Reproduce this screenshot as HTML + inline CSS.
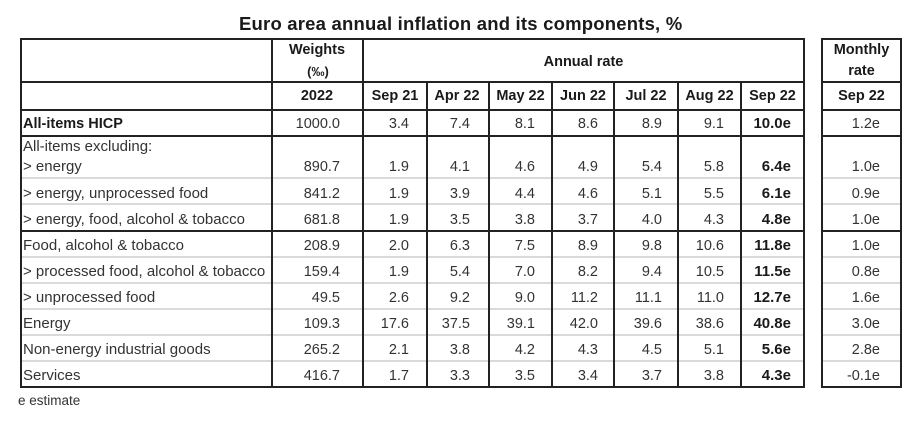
<!DOCTYPE html>
<html><head><meta charset="utf-8"><style>
html,body{margin:0;padding:0;background:#fff;}
#c{position:relative;width:910px;height:430px;overflow:hidden;background:#fff;font-family:"Liberation Sans",Arial,sans-serif;color:#333;}
.h{position:absolute;background:#222;height:2px;}
.v{position:absolute;background:#222;width:2px;}
.lt{position:absolute;background:#dadada;height:2px;}
.r{position:absolute;left:0;width:910px;height:20px;line-height:20px;font-size:14.5px;}
.r span{position:absolute;top:0;white-space:nowrap;}
.l{left:23px;font-size:15px;}
.lb{left:23px;font-weight:bold;color:#1a1a1a;font-size:14.5px;}
.w{right:570px}.a{right:501px}.b{right:440px}.c{right:375px}.d{right:312px}.e{right:248px}.f{right:186px}
.g{right:119px;font-weight:bold;font-size:15px;color:#1a1a1a}
.m{right:30px}
.hd{position:absolute;text-align:center;font-weight:bold;font-size:14.5px;line-height:20px;color:#1a1a1a;white-space:nowrap;}
</style></head><body><div id="c">

<div style="position:absolute;left:239px;top:11.7px;line-height:24px;font-size:18.5px;font-weight:bold;letter-spacing:0.2px;color:#1a1a1a;white-space:nowrap;">Euro area annual inflation and its components, %</div>

<!-- main table lines -->
<div class="h" style="left:20px;width:785px;top:38px"></div>
<div class="h" style="left:20px;width:785px;top:81px"></div>
<div class="h" style="left:20px;width:785px;top:109px"></div>
<div class="h" style="left:20px;width:785px;top:135px"></div>
<div class="h" style="left:20px;width:785px;top:230px"></div>
<div class="h" style="left:20px;width:785px;top:386px"></div>
<div class="lt" style="left:22px;width:781px;top:177px"></div>
<div class="lt" style="left:22px;width:781px;top:203px"></div>
<div class="lt" style="left:22px;width:781px;top:256px"></div>
<div class="lt" style="left:22px;width:781px;top:282px"></div>
<div class="lt" style="left:22px;width:781px;top:308px"></div>
<div class="lt" style="left:22px;width:781px;top:334px"></div>
<div class="lt" style="left:22px;width:781px;top:360px"></div>
<div class="v" style="left:20px;top:38px;height:350px"></div>
<div class="v" style="left:271px;top:38px;height:350px"></div>
<div class="v" style="left:362px;top:38px;height:350px"></div>
<div class="v" style="left:426px;top:81px;height:307px"></div>
<div class="v" style="left:488px;top:81px;height:307px"></div>
<div class="v" style="left:551px;top:81px;height:307px"></div>
<div class="v" style="left:613px;top:81px;height:307px"></div>
<div class="v" style="left:677px;top:81px;height:307px"></div>
<div class="v" style="left:740px;top:81px;height:307px"></div>
<div class="v" style="left:803px;top:38px;height:350px"></div>

<!-- monthly table lines -->
<div class="h" style="left:821px;width:81px;top:38px"></div>
<div class="h" style="left:821px;width:81px;top:81px"></div>
<div class="h" style="left:821px;width:81px;top:109px"></div>
<div class="h" style="left:821px;width:81px;top:135px"></div>
<div class="h" style="left:821px;width:81px;top:230px"></div>
<div class="h" style="left:821px;width:81px;top:386px"></div>
<div class="lt" style="left:823px;width:77px;top:177px"></div>
<div class="lt" style="left:823px;width:77px;top:203px"></div>
<div class="lt" style="left:823px;width:77px;top:256px"></div>
<div class="lt" style="left:823px;width:77px;top:282px"></div>
<div class="lt" style="left:823px;width:77px;top:308px"></div>
<div class="lt" style="left:823px;width:77px;top:334px"></div>
<div class="lt" style="left:823px;width:77px;top:360px"></div>
<div class="v" style="left:821px;top:38px;height:350px"></div>
<div class="v" style="left:900px;top:38px;height:350px"></div>

<!-- headers -->
<div class="hd" style="left:272px;width:90px;top:40px">Weights</div>
<div class="hd" style="left:272px;width:92px;top:61.5px;font-size:13px">(‰)</div>
<div class="hd" style="left:272px;width:90px;top:86px">2022</div>
<div class="hd" style="left:364px;width:439px;top:51.5px">Annual rate</div>
<div class="hd" style="left:364px;width:62px;top:86px">Sep 21</div>
<div class="hd" style="left:425px;width:64px;top:86px">Apr 22</div>
<div class="hd" style="left:490px;width:61px;top:86px">May 22</div>
<div class="hd" style="left:553px;width:60px;top:86px">Jun 22</div>
<div class="hd" style="left:615px;width:62px;top:86px">Jul 22</div>
<div class="hd" style="left:679px;width:61px;top:86px">Aug 22</div>
<div class="hd" style="left:742px;width:61px;top:86px">Sep 22</div>
<div class="hd" style="left:823px;width:77px;top:40px">Monthly</div>
<div class="hd" style="left:823px;width:77px;top:61px">rate</div>
<div class="hd" style="left:823px;width:77px;top:86px">Sep 22</div>

<!-- rows -->
<div class="r" style="top:114px"><span class="lb">All-items HICP</span><span class="w">1000.0</span><span class="a">3.4</span><span class="b">7.4</span><span class="c">8.1</span><span class="d">8.6</span><span class="e">8.9</span><span class="f">9.1</span><span class="g">10.0e</span><span class="m">1.2e</span></div>
<div class="r" style="top:137px"><span class="l">All-items excluding:</span></div>
<div class="r" style="top:157px"><span class="l">&gt; energy</span><span class="w">890.7</span><span class="a">1.9</span><span class="b">4.1</span><span class="c">4.6</span><span class="d">4.9</span><span class="e">5.4</span><span class="f">5.8</span><span class="g">6.4e</span><span class="m">1.0e</span></div>
<div class="r" style="top:183.5px"><span class="l">&gt; energy, unprocessed food</span><span class="w">841.2</span><span class="a">1.9</span><span class="b">3.9</span><span class="c">4.4</span><span class="d">4.6</span><span class="e">5.1</span><span class="f">5.5</span><span class="g">6.1e</span><span class="m">0.9e</span></div>
<div class="r" style="top:209.5px"><span class="l">&gt; energy, food, alcohol &amp; tobacco</span><span class="w">681.8</span><span class="a">1.9</span><span class="b">3.5</span><span class="c">3.8</span><span class="d">3.7</span><span class="e">4.0</span><span class="f">4.3</span><span class="g">4.8e</span><span class="m">1.0e</span></div>
<div class="r" style="top:235.5px"><span class="l">Food, alcohol &amp; tobacco</span><span class="w">208.9</span><span class="a">2.0</span><span class="b">6.3</span><span class="c">7.5</span><span class="d">8.9</span><span class="e">9.8</span><span class="f">10.6</span><span class="g">11.8e</span><span class="m">1.0e</span></div>
<div class="r" style="top:261.5px"><span class="l">&gt; processed food, alcohol &amp; tobacco</span><span class="w">159.4</span><span class="a">1.9</span><span class="b">5.4</span><span class="c">7.0</span><span class="d">8.2</span><span class="e">9.4</span><span class="f">10.5</span><span class="g">11.5e</span><span class="m">0.8e</span></div>
<div class="r" style="top:287.5px"><span class="l">&gt; unprocessed food</span><span class="w">49.5</span><span class="a">2.6</span><span class="b">9.2</span><span class="c">9.0</span><span class="d">11.2</span><span class="e">11.1</span><span class="f">11.0</span><span class="g">12.7e</span><span class="m">1.6e</span></div>
<div class="r" style="top:313.5px"><span class="l">Energy</span><span class="w">109.3</span><span class="a">17.6</span><span class="b">37.5</span><span class="c">39.1</span><span class="d">42.0</span><span class="e">39.6</span><span class="f">38.6</span><span class="g">40.8e</span><span class="m">3.0e</span></div>
<div class="r" style="top:339.5px"><span class="l">Non-energy industrial goods</span><span class="w">265.2</span><span class="a">2.1</span><span class="b">3.8</span><span class="c">4.2</span><span class="d">4.3</span><span class="e">4.5</span><span class="f">5.1</span><span class="g">5.6e</span><span class="m">2.8e</span></div>
<div class="r" style="top:365.5px"><span class="l">Services</span><span class="w">416.7</span><span class="a">1.7</span><span class="b">3.3</span><span class="c">3.5</span><span class="d">3.4</span><span class="e">3.7</span><span class="f">3.8</span><span class="g">4.3e</span><span class="m">-0.1e</span></div>

<div style="position:absolute;left:18px;top:391px;line-height:20px;font-size:13.5px;color:#333;white-space:nowrap;">e estimate</div>

</div></body></html>
